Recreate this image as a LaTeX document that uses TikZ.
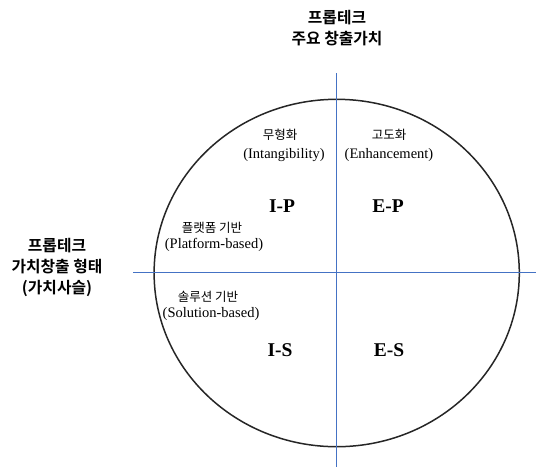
\documentclass[tikz,border=0pt]{standalone}
\usepackage{fontspec}
\setmainfont{Liberation Serif}
\newfontfamily\krfont{Noto Sans CJK KR}
\newfontfamily\krbold{Noto Sans CJK KR Bold}
\definecolor{axisblue}{HTML}{4472C4}
\definecolor{circgray}{HTML}{262626}
\begin{document}
\begin{tikzpicture}[x=1pt,y=-1pt,
  axis/.style={draw=axisblue,line width=1.1pt},
  rim/.style={draw=circgray,line width=1.5pt},
  title/.style={font=\krbold\fontsize{15.8}{21}\selectfont,align=center,inner sep=0pt},
  kr/.style={font=\krfont\fontsize{12.5}{14}\selectfont,inner sep=0pt},
  en/.style={font=\fontsize{14.5}{16}\selectfont,inner sep=0pt},
  quad/.style={font=\bfseries\fontsize{19.5}{22}\selectfont,inner sep=0pt}]
\useasboundingbox (0,0) rectangle (536,467);
% circle
\draw[rim] (336.7,273) ellipse [x radius=182.6, y radius=173.7];
% axes
\coordinate (vtop) at (336.3,73);
\coordinate (vbot) at (336.3,467);
\coordinate (hleft) at (133,272.3);
\coordinate (hright) at (536,272.3);
\draw[axis] (vtop) -- (vbot);
\draw[axis] (hleft) -- (hright);
% titles
\node[title] (ttop) at (337,28) {프롭테크\\주요 창출가치};
\node[title] (tleft) at (57,267) {프롭테크\\가치창출 형태\\(가치사슬)};
% quadrant labels
\node[kr] (mu) at (280,135) {무형화};
\node[en] (mue) at (284,155) {(Intangibility)};
\node[kr] (go) at (389,135) {고도화};
\node[en] (goe) at (389,155) {(Enhancement)};
\node[kr] (pl) at (212,228) {플랫폼 기반};
\node[en] (ple) at (214,245) {(Platform-based)};
\node[kr] (so) at (208,297) {솔루션 기반};
\node[en] (soe) at (211,314) {(Solution-based)};
\node[quad] (ip) at (282,206) {I-P};
\node[quad] (ep) at (388,206) {E-P};
\node[quad] (is) at (280,350) {I-S};
\node[quad] (es) at (389,350) {E-S};
\end{tikzpicture}
\end{document}
